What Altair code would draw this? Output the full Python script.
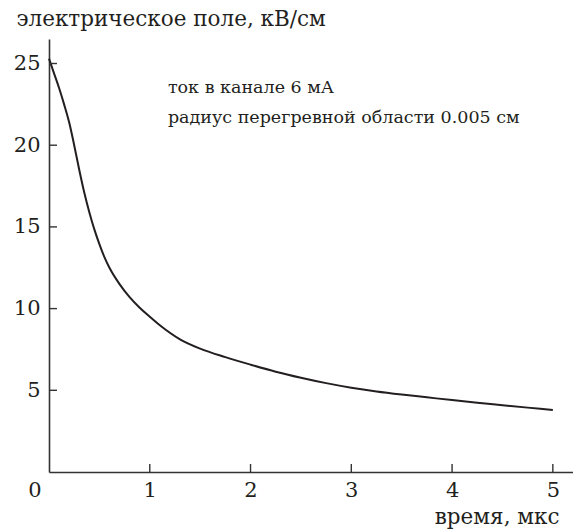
import altair as alt
import pandas as pd

# curve values
t_us = [0, 0.05, 0.1, 0.15, 0.2, 0.25, 0.3, 0.35, 0.4, 0.45, 0.5, 0.55, 0.6,
        0.7, 0.8, 0.9, 1.0, 1.1, 1.3, 1.5, 1.75, 2.0, 2.25, 2.5, 2.75, 3.0,
        3.25, 3.5, 3.75, 4.0, 4.25, 4.5, 4.75, 5.0]
field_kv = [25.3, 24.4, 23.5, 22.5, 21.4, 20.0, 18.5, 17.1, 15.9, 14.85, 13.95,
            13.15, 12.5, 11.5, 10.7, 10.05, 9.5, 8.98, 8.12, 7.55, 7.03, 6.57,
            6.14, 5.77, 5.44, 5.16, 4.93, 4.74, 4.57, 4.4, 4.24, 4.09, 3.94, 3.79]

x_ticks = [1, 2, 3, 4, 5]
y_ticks = [5, 10, 15, 20, 25]

note_lines = ["ток в канале 6 мА", "радиус перегревной области 0.005 см"]
note_t = [1.18, 1.18]
note_e = [23.2, 21.37]

FONT = "DejaVu Serif"
INK = "#231f20"
W, H = 524, 433

curve_df = pd.DataFrame({"t": t_us, "E": field_kv})
xt_df = pd.DataFrame({"t": x_ticks})
yt_df = pd.DataFrame({"E": y_ticks})
note_df = pd.DataFrame({"t": note_t, "E": note_e, "txt": note_lines})
zero_df = pd.DataFrame({"t": [0], "E": [0], "txt": ["0"]})

xs = alt.Scale(domain=[0, 5.2], nice=False, zero=False)
ys = alt.Scale(domain=[0, 26.5], nice=False, zero=False)

curve = alt.Chart(curve_df).mark_line(
    color=INK, strokeWidth=2, interpolate="monotone"
).encode(
    x=alt.X("t:Q", scale=xs, axis=alt.Axis(
        values=x_ticks, format="d", ticks=False, grid=False,
        domainColor="#333333", domainWidth=1.6, labelFont=FONT,
        labelFontSize=21, labelColor=INK, labelPadding=7, title="время, мкс",
        titleFont=FONT, titleFontSize=21.5, titleFontWeight="normal",
        titleColor=INK, titleAlign="right", titleAnchor="start", titleX=510,
        titleY=51, titleBaseline="alphabetic")),
    y=alt.Y("E:Q", scale=ys, axis=alt.Axis(
        values=y_ticks, format="d", ticks=False, grid=False,
        domainColor="#333333", domainWidth=1.6, labelFont=FONT,
        labelFontSize=21, labelColor=INK, labelPadding=9,
        title="электрическое поле, кВ/см", titleFont=FONT, titleFontSize=21.5,
        titleFontWeight="normal", titleColor=INK, titleAngle=0,
        titleAlign="left", titleAnchor="start", titleX=-33, titleY=-14,
        titleBaseline="alphabetic")),
)

xtick_marks = alt.Chart(xt_df).mark_rule(color="#333333", strokeWidth=1.4).encode(
    x=alt.X("t:Q", scale=xs), y=alt.value(H), y2=alt.value(H - 8)
)
ytick_marks = alt.Chart(yt_df).mark_rule(color="#333333", strokeWidth=1.4).encode(
    y=alt.Y("E:Q", scale=ys), x=alt.value(0), x2=alt.value(8)
)

notes = alt.Chart(note_df).mark_text(
    font=FONT, fontSize=17.5, color=INK, align="left", baseline="alphabetic"
).encode(x=alt.X("t:Q", scale=xs), y=alt.Y("E:Q", scale=ys), text="txt:N")

zero_lbl = alt.Chart(zero_df).mark_text(
    font=FONT, fontSize=21, color=INK, align="center", baseline="top",
    dx=-14, dy=8
).encode(x=alt.X("t:Q", scale=xs), y=alt.Y("E:Q", scale=ys), text="txt:N")

chart = alt.layer(curve, xtick_marks, ytick_marks, notes, zero_lbl).properties(
    width=W, height=H,
    autosize=alt.AutoSizeParams(type="none"),
    padding={"left": 49, "top": 39, "right": 0, "bottom": 57},
    background="white",
).configure_view(stroke=None)

chart.save("out.html", embed_options={"renderer": "svg", "actions": False})
